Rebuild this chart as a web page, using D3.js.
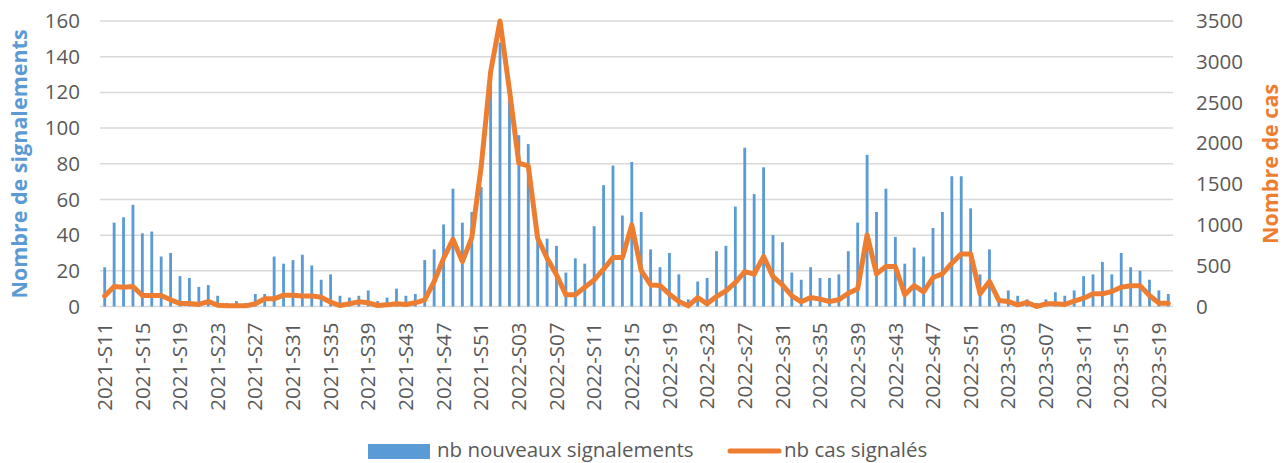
<!DOCTYPE html>
<html lang="fr">
<head>
<meta charset="UTF-8">
<title>Signalements et cas</title>
<style>
  body { margin: 0; background: #fff; }
  svg { display: block; font-family: "Open Sans", sans-serif; }
  .tick text { fill: #595959; font-size: 20.5px; font-family: "Open Sans", sans-serif; }
  .grid line { stroke: #d9d9d9; stroke-width: 1.5px; }
  .legend text { fill: #595959; font-size: 20.5px; }
</style>
</head>
<body>
<svg width="1285" height="463"></svg>
<script src="https://d3js.org/d3.v7.min.js"></script>
<script>
// weeks shown on the x axis
var years = [2021, 2022, 2023];
var firstWeek = [11, 1, 1];
var lastWeek = [52, 52, 20];

var weeks = [];
years.forEach(function(y, k) {
  for (var w = firstWeek[k]; w <= lastWeek[k]; w++) {
    var s = (y == 2021 || (y == 2022 && w < 16)) ? "S" : "s";
    weeks.push(y + "-" + s + (w < 10 ? "0" + w : w));
  }
});

// nb nouveaux signalements (left axis)
var signalements = [
  22, 47, 50, 57, 41, 42, 28, 30, 17, 16, 11, 12, 6, 2, 3, 2, 7, 7, 28, 24,
  26, 29, 23, 15, 18, 6, 5, 6, 9, 3, 5, 10, 6, 7, 26, 32, 46, 66, 47, 53,
  67, 130, 148, 118, 96, 91, 40, 38, 34, 19, 27, 24, 45, 68, 79, 51, 81, 53, 32, 22,
  30, 18, 4, 14, 16, 31, 34, 56, 89, 63, 78, 40, 36, 19, 15, 22, 16, 16, 18, 31,
  47, 85, 53, 66, 39, 24, 33, 28, 44, 53, 73, 73, 55, 18, 32, 4, 9, 6, 4, 2,
  4, 8, 6, 9, 17, 18, 25, 18, 30, 22, 20, 15, 9, 7
];

// nb cas signales (right axis)
var cas = [
  130, 245, 237, 245, 135, 135, 135, 82, 37, 37, 25, 61, 16, 8, 8, 8, 33, 94, 94, 139,
  139, 130, 130, 114, 53, 12, 33, 57, 45, 12, 20, 33, 25, 45, 82, 306, 590, 824, 551, 845,
  1714, 2876, 3500, 2652, 1754, 1726, 836, 592, 388, 143, 143, 237, 326, 457, 600, 600, 1000, 441, 265, 257,
  151, 61, 8, 110, 33, 122, 192, 294, 428, 396, 612, 367, 265, 130, 57, 110, 90, 61, 82, 163,
  216, 877, 400, 490, 490, 143, 257, 180, 355, 400, 530, 645, 645, 155, 307, 74, 61, 20, 49, 0,
  33, 33, 25, 65, 102, 155, 155, 184, 237, 254, 254, 135, 41, 41
];

var leftTicks = [0, 20, 40, 60, 80, 100, 120, 140, 160];
var rightTicks = [0, 500, 1000, 1500, 2000, 2500, 3000, 3500];

var blue = "#5b9bd5", orange = "#ed7d31";

var svg = d3.select("svg");
var plotLeft = 100, plotRight = 1173, plotTop = 21, plotBottom = 306.5;

var x = d3.scaleBand()
    .domain(weeks)
    .range([plotLeft, plotRight])
    .paddingInner(0.7)
    .paddingOuter(0.35);

var yL = d3.scaleLinear().domain([0, 160]).range([plotBottom, plotTop]);
var yR = d3.scaleLinear().domain([0, 3500]).range([plotBottom, plotTop]);

// gridlines
svg.append("g")
    .attr("class", "grid")
    .selectAll("line")
    .data(leftTicks)
    .enter().append("line")
    .attr("x1", plotLeft)
    .attr("x2", plotRight)
    .attr("y1", function(d) { return yL(d); })
    .attr("y2", function(d) { return yL(d); });

// bars
svg.append("g")
    .selectAll("rect")
    .data(signalements)
    .enter().append("rect")
    .attr("x", function(d, i) { return x(weeks[i]); })
    .attr("y", function(d) { return yL(d); })
    .attr("width", x.bandwidth())
    .attr("height", function(d) { return yL(0) - yL(d); })
    .attr("fill", blue);

// line
var line = d3.line()
    .x(function(d, i) { return x(weeks[i]) + x.bandwidth() / 2; })
    .y(function(d) { return yR(d); });

svg.append("path")
    .datum(cas)
    .attr("d", line)
    .attr("fill", "none")
    .attr("stroke", orange)
    .attr("stroke-width", 5)
    .attr("stroke-linejoin", "round")
    .attr("stroke-linecap", "round");

// axes
var axL = svg.append("g")
    .attr("transform", "translate(" + plotLeft + ",0)")
    .call(d3.axisLeft(yL).tickValues(leftTicks).tickSize(0).tickPadding(20));
axL.select(".domain").remove();

var axR = svg.append("g")
    .attr("transform", "translate(" + plotRight + ",0)")
    .call(d3.axisRight(yR).tickValues(rightTicks).tickFormat(d3.format("d"))
        .tickSize(0).tickPadding(23));
axR.select(".domain").remove();

var axB = svg.append("g")
    .attr("transform", "translate(0," + plotBottom + ")")
    .call(d3.axisBottom(x)
        .tickValues(weeks.filter(function(d, i) { return i % 4 == 0; }))
        .tickSize(0));
axB.select(".domain").remove();
axB.selectAll("text")
    .attr("x", -16)
    .attr("y", 0)
    .attr("dy", "0.35em")
    .attr("transform", "rotate(-90)")
    .style("text-anchor", "end");

// axis titles
svg.append("text")
    .attr("transform", "translate(19,164) rotate(-90)")
    .attr("text-anchor", "middle")
    .attr("dy", "0.35em")
    .style("font-weight", "bold")
    .style("font-size", "21.5px")
    .attr("fill", blue)
    .text("Nombre de signalements");

svg.append("text")
    .attr("transform", "translate(1270,164) rotate(-90)")
    .attr("text-anchor", "middle")
    .attr("dy", "0.35em")
    .style("font-weight", "bold")
    .style("font-size", "21.5px")
    .attr("fill", orange)
    .text("Nombre de cas");

// legend
var legend = svg.append("g").attr("class", "legend");
legend.append("rect")
    .attr("x", 368).attr("y", 444)
    .attr("width", 62).attr("height", 15)
    .attr("fill", blue);
legend.append("text")
    .attr("x", 437).attr("y", 457)
    .text("nb nouveaux signalements");
legend.append("line")
    .attr("x1", 730).attr("x2", 779)
    .attr("y1", 451).attr("y2", 451)
    .attr("stroke", orange)
    .attr("stroke-width", 5)
    .attr("stroke-linecap", "round");
legend.append("text")
    .attr("x", 784).attr("y", 457)
    .text("nb cas signalés");
</script>
</body>
</html>
